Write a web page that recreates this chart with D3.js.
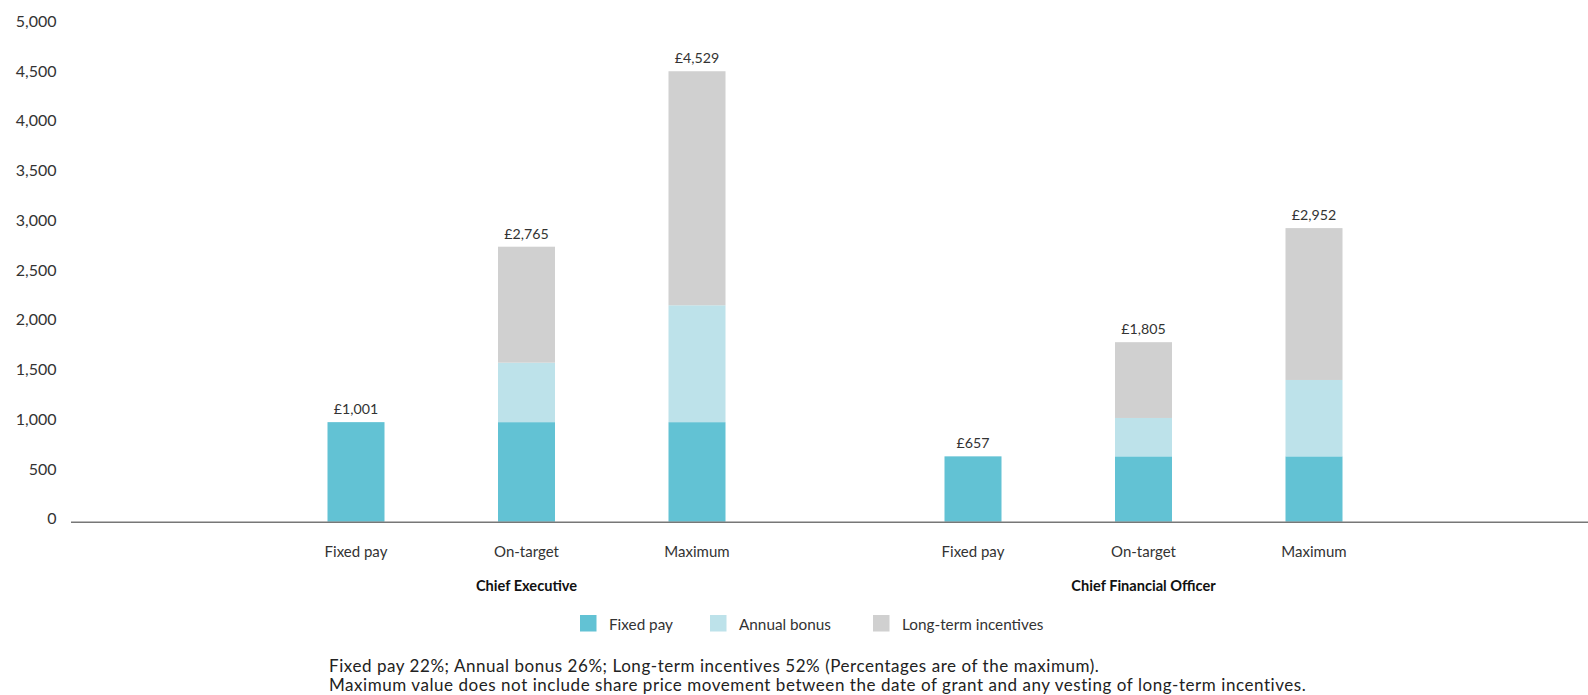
<!DOCTYPE html>
<html>
<head>
<meta charset="utf-8">
<script src="https://cdn.jsdelivr.net/npm/d3@7"></script>
<style>
  html, body { margin: 0; padding: 0; background: #fff; }
  svg { display: block; font-family: Lato, "Open Sans", sans-serif; }
</style>
</head>
<body>
<svg id="chart" width="1588" height="695"></svg>
<script>
// ---- data ----
const groups = ["Chief Executive", "Chief Financial Officer"];
const scenarios = ["Fixed pay", "On-target", "Maximum"];
const seriesNames = ["Fixed pay", "Annual bonus", "Long-term incentives"];
const fixedPay = [[1001, 1001, 1001], [657, 657, 657]];
const annualBonus = [[0, 598, 1175], [0, 386, 768]];
const longTermIncentives = [[0, 1166, 2353], [0, 762, 1527]];
const totalLabels = [["£1,001", "£2,765", "£4,529"], ["£657", "£1,805", "£2,952"]];
const yTicks = [0, 500, 1000, 1500, 2000, 2500, 3000, 3500, 4000, 4500, 5000];
const footnotes = [
  "Fixed pay 22%; Annual bonus 26%; Long-term incentives 52% (Percentages are of the maximum).",
  "Maximum value does not include share price movement between the date of grant and any vesting of long-term incentives."
];
const colors = ["#62c2d4", "#bde2ea", "#d0d0d0"];

// ---- layout ----
const svg = d3.select("#chart");
const y = d3.scaleLinear().domain([0, 5000]).range([521.7, 24.4]);
const xGroup = d3.scaleBand().domain(groups).range([218, 1452]);
const xInner = d3.scalePoint().domain(scenarios).range([-170.5, 170.5]);
const barW = 57;
const cx = (g, s) => xGroup(g) + xGroup.bandwidth() / 2 + xInner(s);

// rows for stacking
const rows = [];
groups.forEach((g, gi) => scenarios.forEach((s, si) => {
  rows.push({ group: g, scenario: s, gi, si,
    "Fixed pay": fixedPay[gi][si],
    "Annual bonus": annualBonus[gi][si],
    "Long-term incentives": longTermIncentives[gi][si] });
}));
const stacked = d3.stack().keys(seriesNames)(rows);

// y tick labels
svg.append("g").selectAll("text").data(yTicks).join("text")
  .attr("x", 56.5).attr("y", d => y(d) - 1.5)
  .attr("text-anchor", "end").attr("dominant-baseline", "middle")
  .attr("font-size", 16).attr("fill", "#333")
  .text(d => d3.format(",")(d));

// bars
svg.append("g").selectAll("g").data(stacked).join("g")
  .attr("fill", (d, i) => colors[i])
  .selectAll("rect").data(d => d.filter(p => p[1] - p[0] > 0)).join("rect")
  .attr("x", d => cx(d.data.group, d.data.scenario) - barW / 2)
  .attr("width", barW)
  .attr("y", d => y(d[1]))
  .attr("height", d => y(d[0]) - y(d[1]));

// x axis line
svg.append("line").attr("x1", 71).attr("x2", 1588)
  .attr("y1", y(0) + 0.5).attr("y2", y(0) + 0.5)
  .attr("stroke", "#777").attr("stroke-width", 1.5);

// total labels
svg.append("g").selectAll("text").data(rows).join("text")
  .attr("x", d => cx(d.group, d.scenario))
  .attr("y", d => y(d["Fixed pay"] + d["Annual bonus"] + d["Long-term incentives"]) - 8)
  .attr("text-anchor", "middle").attr("font-size", 14.2).attr("fill", "#333")
  .text(d => totalLabels[d.gi][d.si]);

// scenario labels
svg.append("g").selectAll("text").data(rows).join("text")
  .attr("x", d => cx(d.group, d.scenario))
  .attr("y", 553.5).attr("dominant-baseline", "middle")
  .attr("text-anchor", "middle").attr("font-size", 15).attr("fill", "#333")
  .text(d => d.scenario);

// group labels
svg.append("g").selectAll("text").data(groups).join("text")
  .attr("x", d => xGroup(d) + xGroup.bandwidth() / 2)
  .attr("y", 587.5).attr("dominant-baseline", "middle")
  .attr("text-anchor", "middle").attr("font-size", 14.6).attr("font-weight", "bold").attr("fill", "#111")
  .text(d => d);

// legend
const legendX = [580, 710, 873];
const lg = svg.append("g").selectAll("g").data(seriesNames).join("g")
  .attr("transform", (d, i) => `translate(${legendX[i]},615)`);
lg.append("rect").attr("width", 16.5).attr("height", 16.5).attr("fill", (d, i) => colors[i]);
lg.append("text").attr("x", 29).attr("y", 10.8).attr("dominant-baseline", "middle")
  .attr("font-size", 15.3).attr("fill", "#333").text(d => d);

// footnotes
svg.append("g").selectAll("text").data(footnotes).join("text")
  .attr("x", 329).attr("y", (d, i) => 668 + i * 18.8).attr("dominant-baseline", "middle")
  .attr("font-size", 17).attr("letter-spacing", 0.55).attr("fill", "#222").text(d => d);
</script>
</body>
</html>
